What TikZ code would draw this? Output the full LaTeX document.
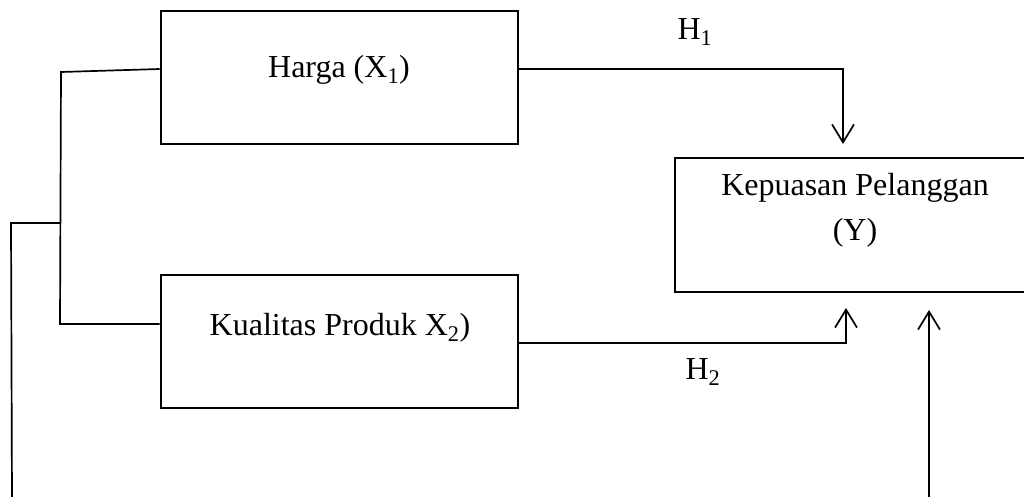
\documentclass[tikz,border=0pt]{standalone}
\usepackage{fontspec}
\setmainfont{Liberation Serif}
\usetikzlibrary{arrows.meta}

\tikzset{
  box/.style={draw, line width=2.7pt, rectangle, inner sep=0pt},
  txt/.style={inner sep=0pt, align=center, font=\fontsize{32}{45}\selectfont},
  link/.style={line width=1.7pt},
  arr/.style={link, -{Straight Barb[length=18pt,width=22pt,line width=1.7pt]}},
}

\begin{document}
\begin{tikzpicture}[x=1pt,y=-1pt]
  \useasboundingbox (0,0) rectangle (1024,496);
  \clip (0,0) rectangle (1024,496);

  % variable boxes
  \node[box, minimum width=357pt, minimum height=133pt] (harga) at (339.5,77.5) {};
  \node[box, minimum width=357pt, minimum height=133pt] (kual) at (339.5,341.5) {};
  \node[box, minimum width=360pt, minimum height=134pt] (kep) at (855,225) {};

  % box captions
  \node[txt] (hargaT) at (339,70) {Harga (X\textsubscript{1})};
  \node[txt] (kualT) at (340,328) {Kualitas Produk X\textsubscript{2})};
  \node[txt] (kepT) at (855,210) {Kepuasan Pelanggan\\(Y)};

  % hypothesis labels
  \node[txt] (h1) at (695,32) {H\textsubscript{1}};
  \node[txt] (h2) at (703,372) {H\textsubscript{2}};

  % junction and corner points
  \coordinate (hOut) at (harga.east |- 0,69);
  \coordinate (hIn) at (harga.west |- 0,69);
  \coordinate (c1) at (843,69);
  \coordinate (t1) at (843,144);
  \coordinate (kOut) at (kual.east |- 0,343);
  \coordinate (kIn) at (kual.west |- 0,324);
  \coordinate (c2) at (846,343);
  \coordinate (t2) at (846,308);
  \coordinate (bTop) at (61,72);
  \coordinate (bBot) at (60,324);
  \coordinate (bMid) at (60,223);
  \coordinate (oTop) at (11,223);
  \coordinate (oBot) at (12,500);
  \coordinate (rBot) at (929,500);
  \coordinate (t3) at (929,310);

  % H1: price to satisfaction
  \draw[arr] (hOut) -- (c1) -- (t1);
  % H2: product quality to satisfaction
  \draw[arr] (kOut) -- (c2) -- (t2);
  % bracket joining both independent variables
  \draw[link] (hIn) -- (bTop) -- (bBot) -- (kIn);
  \draw[link] (bMid) -- (oTop) -- (oBot);
  % simultaneous effect
  \draw[arr] (rBot) -- (t3);
\end{tikzpicture}
\end{document}
